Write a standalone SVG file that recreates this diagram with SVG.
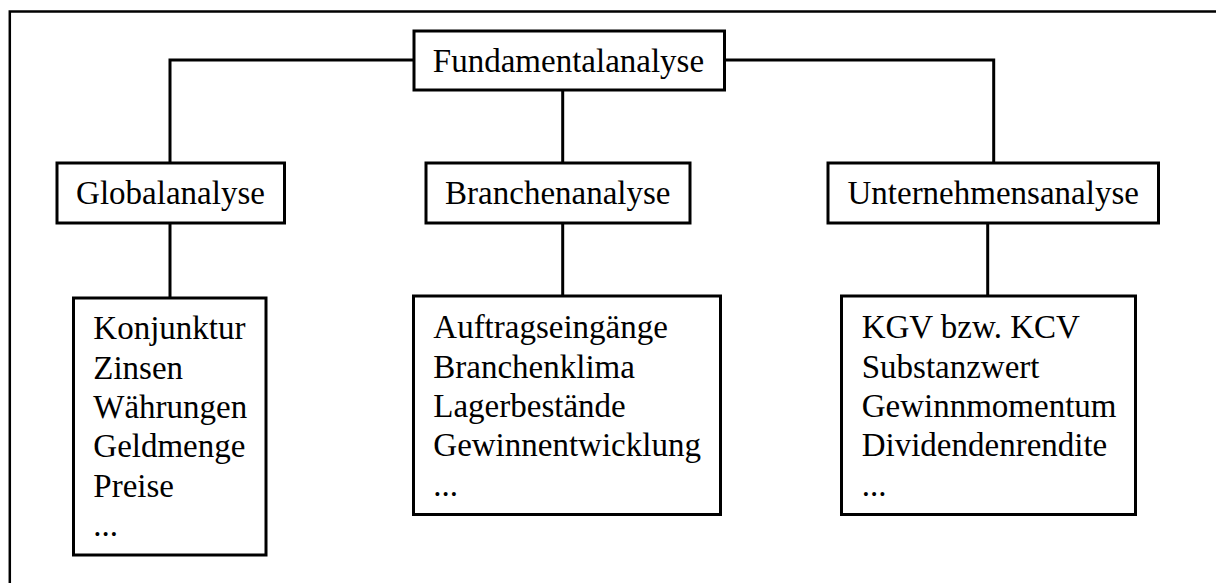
<svg xmlns="http://www.w3.org/2000/svg" width="1216" height="583" viewBox="0 0 1216 583">
<style>
.box{fill:#fff;stroke:#000;stroke-width:3}
.con{fill:none;stroke:#000;stroke-width:3}
.frame{fill:none;stroke:#000;stroke-width:2.5}
text{font-family:"Liberation Serif","Times New Roman",serif;font-size:33px;fill:#000}
.c{text-anchor:middle}
</style>
<rect width="1216" height="583" fill="#fff"/>
<path class="frame" d="M9.8,583 V11.6 H1216"/>
<g id="connectors">
<path class="con" d="M170,162 V60 H414 M725,60 H993.7 V162"/>
<path class="con" d="M562.7,90 V162"/>
<path class="con" d="M170,223 V297"/>
<path class="con" d="M562.7,223 V295"/>
<path class="con" d="M987.7,223 V295"/>
</g>
<g id="fundamentalanalyse">
<rect class="box" x="414" y="31" width="310.5" height="59"/>
<text class="c" x="568.5" y="71.7">Fundamentalanalyse</text>
</g>
<g id="globalanalyse">
<rect class="box" x="57" y="163" width="227.5" height="60"/>
<text class="c" x="170.5" y="204">Globalanalyse</text>
</g>
<g id="branchenanalyse">
<rect class="box" x="426" y="163" width="264" height="60"/>
<text class="c" x="557.8" y="204">Branchenanalyse</text>
</g>
<g id="unternehmensanalyse">
<rect class="box" x="828" y="163" width="330.5" height="60"/>
<text class="c" x="993.2" y="204">Unternehmensanalyse</text>
</g>
<g id="global-list">
<rect class="box" x="73.5" y="298" width="192.5" height="257"/>
<text x="93.3" y="339.3">Konjunktur</text>
<text x="93.3" y="378.6">Zinsen</text>
<text x="93.3" y="417.9">Währungen</text>
<text x="93.3" y="457.2">Geldmenge</text>
<text x="93.3" y="496.5">Preise</text>
<text x="93.3" y="535.8">...</text>
</g>
<g id="branchen-list">
<rect class="box" x="413.5" y="296" width="307" height="218.5"/>
<text x="433.3" y="338.3">Auftragseingänge</text>
<text x="433.3" y="377.6">Branchenklima</text>
<text x="433.3" y="416.9">Lagerbestände</text>
<text x="433.3" y="456.2">Gewinnentwicklung</text>
<text x="433.3" y="495.5">...</text>
</g>
<g id="unternehmens-list">
<rect class="box" x="841.5" y="296" width="294" height="218.5"/>
<text x="861.7" y="338.3">KGV bzw. KCV</text>
<text x="861.7" y="377.6">Substanzwert</text>
<text x="861.7" y="416.9">Gewinnmomentum</text>
<text x="861.7" y="456.2">Dividendenrendite</text>
<text x="861.7" y="495.5">...</text>
</g>
</svg>
